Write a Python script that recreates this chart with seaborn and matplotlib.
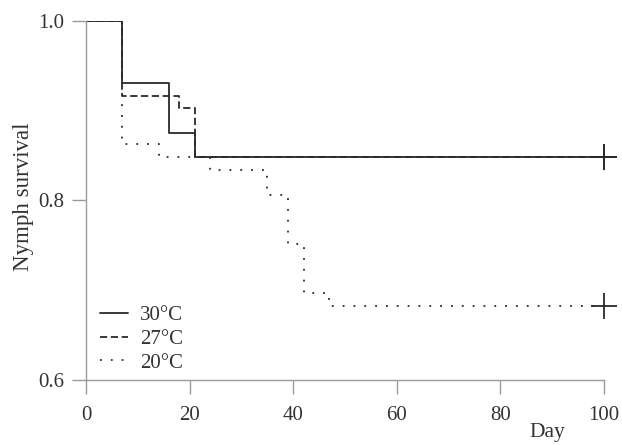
import pandas as pd
import matplotlib
matplotlib.use('Agg')
import matplotlib.pyplot as plt
import seaborn as sns

# Kaplan-Meier style survival
temps = ['30°C', '27°C', '20°C']
days_30 = [0, 7, 16, 21, 100]
surv_30 = [1.0, 0.931, 0.875, 0.848, 0.848]
days_27 = [0, 7, 18, 21, 100]
surv_27 = [1.0, 0.916, 0.903, 0.848, 0.848]
days_20 = [0, 7, 14, 24, 35, 39, 42, 47, 100]
surv_20 = [1.0, 0.863, 0.848, 0.834, 0.806, 0.752, 0.697, 0.682, 0.682]

# censored at end of experiment
censor_day = [100, 100, 100]
censor_surv = [0.848, 0.848, 0.682]

rows = []
for t, d, s in [(temps[0], days_30, surv_30), (temps[1], days_27, surv_27), (temps[2], days_20, surv_20)]:
    for dd, ss in zip(d, s):
        rows.append([t, dd, ss])
df = pd.DataFrame(rows, columns=['Temp', 'Day', 'Survival'])
cens = pd.DataFrame({'Day': censor_day, 'Survival': censor_surv})

sns.set_style('ticks')
plt.rcParams['font.family'] = ['Liberation Serif', 'DejaVu Serif']
plt.rcParams['font.size'] = 15

line_col = '#2a2a2a'
axis_col = '#9a9a9a'
text_col = '#333333'

fig = plt.figure(figsize=(6.22, 4.45), dpi=100)
ax = fig.add_axes([0.1383, 0.1461, 0.8328, 0.8067])

sns.lineplot(data=df, x='Day', y='Survival', style='Temp', style_order=temps,
             dashes={'30°C': '', '27°C': (4, 2), '20°C': (1, 5)},
             color=line_col, linewidth=1.3, drawstyle='steps-post',
             estimator=None, sort=True, ax=ax, legend=True)
sns.scatterplot(data=cens, x='Day', y='Survival', marker='+', s=330,
                color=line_col, linewidth=1.3, ax=ax, clip_on=False, zorder=5)

handles, labels = ax.get_legend_handles_labels()
hl = [(h, l) for h, l in zip(handles, labels) if l in temps]
ax.legend([h for h, _ in hl], [l for _, l in hl], loc='lower left',
          bbox_to_anchor=(-0.01, -0.032), frameon=False, handlelength=1.35,
          handletextpad=0.58, labelspacing=0.2, fontsize=15,
          labelcolor=text_col)

ax.set_xlim(0, 100)
ax.set_ylim(0.6, 1.0)
ax.set_xticks([0, 20, 40, 60, 80, 100])
ax.set_yticks([0.6, 0.8, 1.0])
ax.set_yticklabels(['0.6', '0.8', '1.0'])

for side in ['top', 'right']:
    ax.spines[side].set_visible(False)
for side in ['left', 'bottom']:
    ax.spines[side].set_color(axis_col)
    ax.spines[side].set_linewidth(1.0)
ax.tick_params(axis='both', length=10, width=1.0, color=axis_col,
               labelcolor=text_col, labelsize=15)
ax.tick_params(axis='x', pad=9)
ax.tick_params(axis='y', pad=6)

ax.set_xlabel('Day', color=text_col, fontsize=15.5)
ax.xaxis.set_label_coords(0.89, -0.12)
ax.set_ylabel('Nymph survival', color=text_col, fontsize=16.5)
ax.yaxis.set_label_coords(-0.1, 0.51)

fig.savefig('out.png', dpi=100)
